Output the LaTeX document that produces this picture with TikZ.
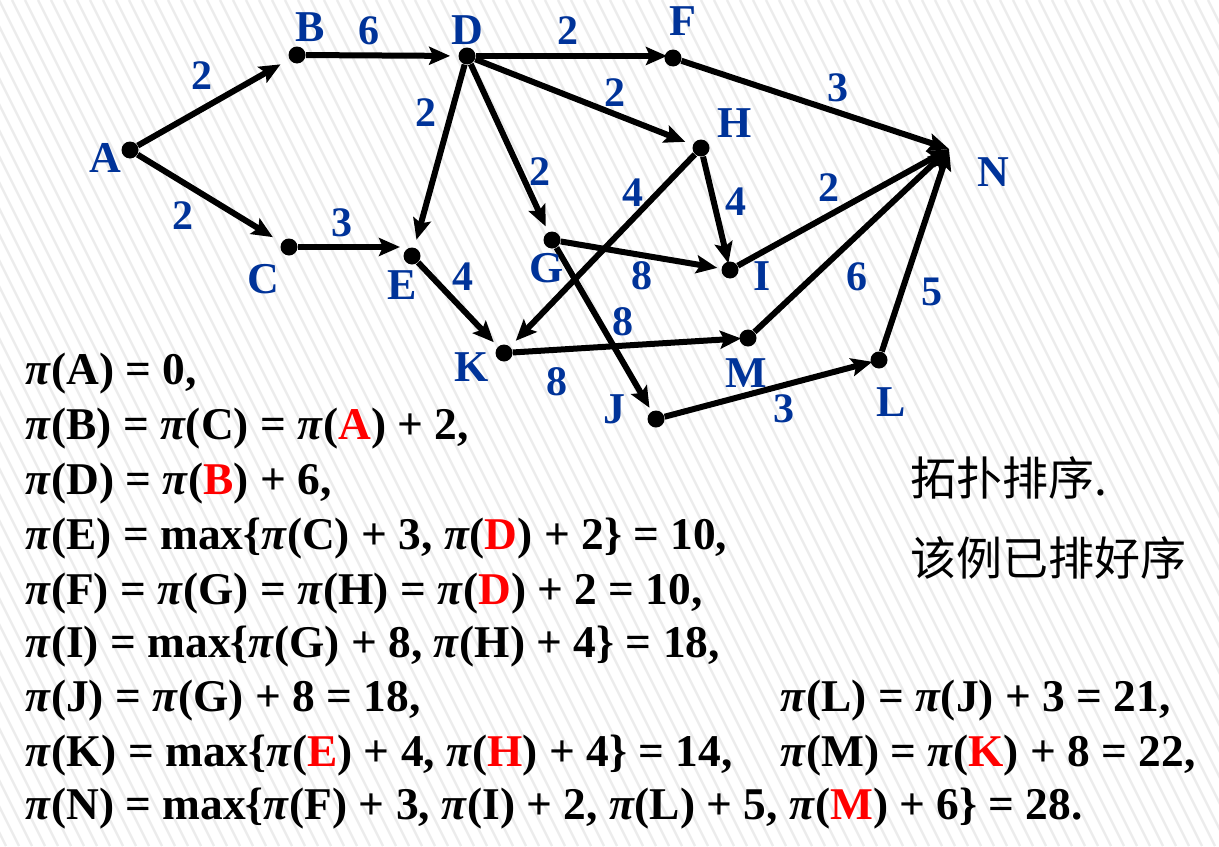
\documentclass[tikz,border=0pt]{standalone}
\usepackage{fontspec}
\setmainfont{Liberation Serif}
\newfontfamily\cjk{Noto Sans CJK SC}
\usetikzlibrary{arrows.meta}
\definecolor{lblue}{RGB}{0,51,153}
\definecolor{stripe}{RGB}{236,236,236}
\newcommand{\redx}[1]{\textcolor{red}{#1}}
\newcommand{\pii}{\textit{π}}
\begin{document}
\begin{tikzpicture}[x=0.5pt,y=-0.5pt,
  dot/.style={circle,fill=black,inner sep=0pt,minimum size=8.5pt},
  edge/.style={line width=3pt,-{Stealth[length=10.5pt,width=9pt,inset=2pt]}},
  vlabel/.style={text=lblue,font=\fontsize{22}{24}\selectfont\bfseries,inner sep=0pt},
  wlabel/.style={text=lblue,font=\fontsize{21}{24}\selectfont\bfseries,inner sep=0pt},
  eqline/.style={anchor=base west,inner sep=0pt,font=\fontsize{22.7}{26}\selectfont\bfseries},
  cjkline/.style={anchor=west,inner sep=0pt,font=\fontsize{23}{26}\selectfont\cjk}]
\useasboundingbox (0,0) rectangle (1219,846);
\fill[white] (0,0) rectangle (1219,846);
\begin{scope}
\clip (0,0) rectangle (1219,846);
\foreach \s in {-430,-417,...,1230} {
  \draw[stripe,line width=1.2pt] (\s,0) -- (\s+423,846);
}
\end{scope}
% vertices
\node[dot] (A) at (130,150) {};
\node[dot] (B) at (297,55) {};
\node[dot] (C) at (289,247) {};
\node[dot] (D) at (467,56) {};
\node[dot] (E) at (412,256) {};
\node[dot] (F) at (673,58) {};
\node[dot] (G) at (552,240) {};
\node[dot] (H) at (701,148) {};
\node[dot] (I) at (730,270) {};
\node[dot] (J) at (656,419) {};
\node[dot] (K) at (504,353) {};
\node[dot] (L) at (879,360) {};
\node[dot] (M) at (748,338) {};
\coordinate (N) at (949,149);
% edges
\draw[edge,shorten >=5pt] (A) -- (B);
\draw[edge,shorten >=5pt] (A) -- (C);
\draw[edge,shorten >=4pt] (B) -- (D);
\draw[edge,shorten >=3pt] (D) -- (D -| F);
\draw[edge,shorten >=4pt] (D) -- (E);
\draw[edge,shorten >=3pt] (D) -- (G);
\draw[edge,shorten >=4pt] (D) -- (H);
\draw[edge,shorten >=6pt] (C) -- (C -| E);
\draw[edge,shorten >=3pt] (E) -- (K);
\draw[edge,shorten >=4pt] (H) -- (K);
\draw[edge,shorten >=-1pt] (H) -- (I);
\draw[edge,shorten >=2pt] (G) -- (I);
\draw[edge,shorten >=2pt] (G) -- (J);
\draw[edge,shorten >=-1pt] (K) -- (M);
\draw[edge,shorten >=-1pt] (J) -- (L);
\draw[edge] (F) -- (N);
\draw[edge] (I) -- (N);
\draw[edge] (M) -- (N);
\draw[edge] (L) -- (N);
% vertex labels
\node[vlabel] (lA) at (105,158) {A};
\node[vlabel] (lB) at (310,27) {B};
\node[vlabel] (lC) at (263,279) {C};
\node[vlabel] (lD) at (467,30) {D};
\node[vlabel] (lE) at (402,285) {E};
\node[vlabel] (lF) at (683,21) {F};
\node[vlabel] (lG) at (547,268) {G};
\node[vlabel] (lH) at (735,123) {H};
\node[vlabel] (lI) at (762,276) {I};
\node[vlabel] (lJ) at (614,409) {J};
\node[vlabel] (lK) at (472,367) {K};
\node[vlabel] (lL) at (891,402) {L};
\node[vlabel] (lM) at (746,373) {M};
\node[vlabel] (lN) at (993,172) {N};
% weights
\node[wlabel] (wAB) at (202,76) {2};
\node[wlabel] (wAC) at (183,216) {2};
\node[wlabel] (wBD) at (369,31) {6};
\node[wlabel] (wCE) at (342,223) {3};
\node[wlabel] (wDE) at (426,113) {2};
\node[wlabel] (wDF) at (568,31) {2};
\node[wlabel] (wDH) at (615,93) {2};
\node[wlabel] (wDG) at (540,172) {2};
\node[wlabel] (wFN) at (838,88) {3};
\node[wlabel] (wHK) at (633,193) {4};
\node[wlabel] (wHI) at (736,202) {4};
\node[wlabel] (wIN) at (829,188) {2};
\node[wlabel] (wEK) at (463,277) {4};
\node[wlabel] (wGI) at (642,276) {8};
\node[wlabel] (wGJ) at (623,322) {8};
\node[wlabel] (wKM) at (557,382) {8};
\node[wlabel] (wMN) at (857,277) {6};
\node[wlabel] (wLN) at (932,292) {5};
\node[wlabel] (wJL) at (784,409) {3};
% equations
\node[eqline] (e1) at (25,384) {\pii(A) = 0,};
\node[eqline] (e2) at (25,439) {\pii(B) = \pii(C) = \pii(\redx{A}) + 2,};
\node[eqline] (e3) at (25,494) {\pii(D) = \pii(\redx{B}) + 6,};
\node[eqline] (e4) at (25,549) {\pii(E) = max\{\pii(C) + 3, \pii(\redx{D}) + 2\} = 10,};
\node[eqline] (e5) at (25,604) {\pii(F) = \pii(G) = \pii(H) = \pii(\redx{D}) + 2 = 10,};
\node[eqline] (e6) at (25,657) {\pii(I) = max\{\pii(G) + 8, \pii(H) + 4\} = 18,};
\node[eqline] (e7) at (25,711) {\pii(J) = \pii(G) + 8 = 18,};
\node[eqline] (e8) at (25,766) {\pii(K) = max\{\pii(\redx{E}) + 4, \pii(\redx{H}) + 4\} = 14,};
\node[eqline] (e9) at (25,819) {\pii(N) = max\{\pii(F) + 3, \pii(I) + 2, \pii(L) + 5, \pii(\redx{M}) + 6\} = 28.};
\node[eqline] (e10) at (780,711) {\pii(L) = \pii(J) + 3 = 21,};
\node[eqline] (e11) at (780,766) {\pii(M) = \pii(\redx{K}) + 8 = 22,};
% chinese notes
\node[cjkline] (c1) at (910,478) {拓扑排序.};
\node[cjkline] (c2) at (910,558) {该例已排好序};
\end{tikzpicture}
\end{document}
